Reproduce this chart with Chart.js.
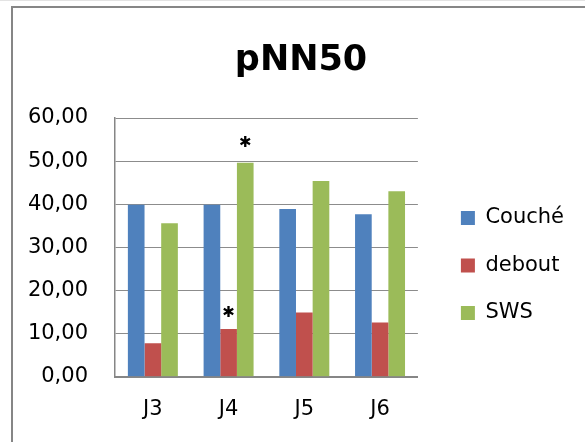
<!DOCTYPE html>
<html>
<head>
<meta charset="utf-8">
<script src="https://cdn.jsdelivr.net/npm/chart.js@4/dist/chart.umd.min.js"></script>
<style>
  html, body { margin: 0; padding: 0; background: #fff; overflow: hidden; }
  #wrap { position: relative; width: 585px; height: 442px; overflow: hidden; }
  .ligne { position: absolute; }
  #topline { left: 0; top: 0; width: 585px; height: 1px; background: #e3e3e3; }
  #bordG { left: 11px; top: 6px; width: 2px; height: 436px; background: #868686; }
  #bordH { left: 11px; top: 6px; width: 574px; height: 2px; background: #868686; }
  canvas { position: absolute; left: 0; top: 0; }
</style>
</head>
<body>
<div id="wrap">
  <div class="ligne" id="topline"></div>
  <div class="ligne" id="bordG"></div>
  <div class="ligne" id="bordH"></div>
  <canvas id="chart" width="585" height="442"></canvas>
</div>
<script>
// données
const categories = ['J3', 'J4', 'J5', 'J6'];
const couche = [39.9, 39.9, 38.9, 37.7];
const debout = [7.8, 11.1, 14.9, 12.6];
const sws = [35.6, 49.6, 45.4, 43.0];
const seriesNames = ['Couché', 'debout', 'SWS'];
const seriesColors = ['#4F81BD', '#C0504D', '#9BBB59'];
// astérisques de significativité : [série, catégorie, symbole]
const marques = [[2, 1, '✱'], [1, 1, '✱']];

const FONT = "'DejaVu Sans', sans-serif";

// petit plugin pour poser les astérisques au-dessus des barres
const asterisques = {
  id: 'asterisques',
  afterDatasetsDraw(chart) {
    const ctx = chart.ctx;
    ctx.save();
    ctx.fillStyle = '#000';
    ctx.font = 'bold 15px ' + FONT;
    ctx.textAlign = 'center';
    ctx.textBaseline = 'middle';
    marques.forEach(([s, i, txt]) => {
      const bar = chart.getDatasetMeta(s).data[i];
      const decal = s === 2 ? 20 : 16;
      ctx.fillText(txt, bar.x, bar.y - decal);
    });
    ctx.restore();
  }
};

const datasets = [couche, debout, sws].map((vals, k) => ({
  label: seriesNames[k],
  data: vals,
  backgroundColor: seriesColors[k],
  borderWidth: 0,
  categoryPercentage: 0.66,
  barPercentage: 1.0
}));

new Chart(document.getElementById('chart'), {
  type: 'bar',
  data: { labels: categories, datasets: datasets },
  plugins: [asterisques],
  options: {
    responsive: false,
    animation: false,
    layout: { padding: { top: 8, left: 28, right: 11, bottom: 0 } },
    plugins: {
      tooltip: { enabled: false },
      title: {
        display: true,
        text: 'pNN50',
        color: '#000',
        font: { family: FONT, size: 35, weight: 'bold', lineHeight: 1.2 },
        padding: { top: 31.5, bottom: 36.5 }
      },
      legend: {
        position: 'right',
        align: 'start',
        fullSize: false,
        maxWidth: 200,
        title: { display: true, text: '', font: { size: 10, lineHeight: 1.2 }, padding: { top: 51, bottom: 0 } },
        labels: {
          color: '#000',
          font: { family: FONT, size: 21 },
          boxWidth: 14,
          boxHeight: 14,
          padding: 26.5
        }
      }
    },
    scales: {
      x: {
        grid: { display: false, drawTicks: false },
        border: { color: '#868686', width: 2 },
        ticks: { color: '#000', font: { family: FONT, size: 21 }, padding: 20 }
      },
      y: {
        min: 0,
        max: 60,
        afterFit: s => { s.width = 87; },
        ticks: {
          stepSize: 10,
          color: '#000',
          font: { family: FONT, size: 21 },
          padding: 27,
          callback: v => v.toFixed(2).replace('.', ',')
        },
        grid: { color: '#8c8c8c', lineWidth: 1, drawTicks: false },
        border: { color: '#868686', width: 1.5 }
      },
      espace: {
        position: 'right',
        display: true,
        grid: { display: false, drawTicks: false },
        border: { display: false },
        ticks: { display: false },
        afterFit: s => { s.width = 16.5; }
      }
    }
  }
});
</script>
</body>
</html>
